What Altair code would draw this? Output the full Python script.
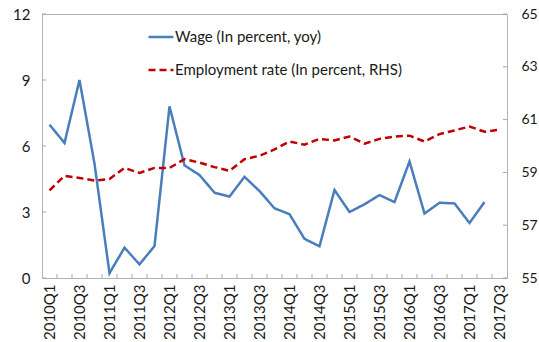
import altair as alt
import pandas as pd

quarters = ["2010Q1", "2010Q2", "2010Q3", "2010Q4", "2011Q1", "2011Q2", "2011Q3", "2011Q4",
            "2012Q1", "2012Q2", "2012Q3", "2012Q4", "2013Q1", "2013Q2", "2013Q3", "2013Q4",
            "2014Q1", "2014Q2", "2014Q3", "2014Q4", "2015Q1", "2015Q2", "2015Q3", "2015Q4",
            "2016Q1", "2016Q2", "2016Q3", "2016Q4", "2017Q1", "2017Q2", "2017Q3"]
label_quarters = quarters[::2]

wage = [6.97, 6.14, 9.0, 5.2, 0.22, 1.38, 0.62, 1.45, 7.8, 5.12, 4.68, 3.88, 3.7, 4.6, 3.95,
        3.17, 2.9, 1.78, 1.44, 4.0, 3.0, 3.35, 3.77, 3.45, 5.3, 2.93, 3.42, 3.39, 2.5, 3.45]
employment = [58.32, 58.87, 58.79, 58.69, 58.75, 59.17, 58.98, 59.17, 59.17, 59.5, 59.37,
              59.2, 59.06, 59.5, 59.63, 59.87, 60.17, 60.05, 60.27, 60.21, 60.36, 60.09,
              60.27, 60.36, 60.39, 60.17, 60.45, 60.59, 60.74, 60.54, 60.62]

series_names = ["Wage (In percent, yoy)", "Employment rate (In percent, RHS)"]
series_colors = ["#4a7ebb", "#c00000"]
left_ticks = [0, 3, 6, 9, 12]
right_ticks = [55, 57, 59, 61, 63, 65]

FONT = "Lato"
W, H = 465, 264

wage_df = pd.DataFrame({"quarter": quarters[:len(wage)], "value": wage, "series": series_names[0]})
emp_df = pd.DataFrame({"quarter": quarters, "value": employment, "series": series_names[1]})
qdf = pd.DataFrame({"quarter": quarters[1:]})
ltick_df = pd.DataFrame({"v": left_ticks})
rtick_df = pd.DataFrame({"v": right_ticks})

xscale = alt.Scale(type="band", domain=quarters, paddingInner=0, paddingOuter=0)
xaxis = alt.Axis(values=label_quarters, labelAngle=270, ticks=False, domain=False,
                 labelPadding=6, labelFontSize=15, labelFont=FONT, labelColor="#1a1a1a",
                 title=None, grid=False)
yl_scale = alt.Scale(domain=[0, 12], nice=False, zero=False)
yr_scale = alt.Scale(domain=[55, 65], nice=False, zero=False)

color = alt.Color("series:N", scale=alt.Scale(domain=series_names, range=series_colors),
                  legend=alt.Legend(title=None, orient="none", legendX=105, legendY=9,
                                    symbolType="stroke", symbolSize=625, symbolStrokeWidth=2.5,
                                    labelFontSize=15, labelFont=FONT, labelColor="#1a1a1a",
                                    labelOffset=0, rowPadding=11, labelLimit=400))
dash = alt.StrokeDash("series:N", scale=alt.Scale(domain=series_names, range=[[1, 0], [7, 4]]),
                      legend=None)

wage_line = alt.Chart(wage_df).mark_line(strokeWidth=2.5).encode(
    x=alt.X("quarter:N", scale=xscale, axis=xaxis, sort=quarters),
    y=alt.Y("value:Q", scale=yl_scale,
            axis=alt.Axis(values=left_ticks, ticks=False, domain=False, grid=False,
                          labelPadding=12, labelFontSize=15, labelFont=FONT,
                          labelColor="#1a1a1a", title=None, orient="left")),
    color=color,
    strokeDash=dash,
)
left_tick_marks = alt.Chart(ltick_df).mark_rule(color="#a6a6a6", strokeWidth=1).encode(
    y=alt.Y("v:Q", scale=yl_scale),
    x=alt.value(0), x2=alt.value(4),
)
x_tick_marks = alt.Chart(qdf).mark_rule(color="#a6a6a6", strokeWidth=1).encode(
    x=alt.X("quarter:N", scale=xscale, bandPosition=0, sort=quarters),
    y=alt.value(H - 4), y2=alt.value(H),
)

emp_line = alt.Chart(emp_df).mark_line(strokeWidth=2.5).encode(
    x=alt.X("quarter:N", scale=xscale, sort=quarters),
    y=alt.Y("value:Q", scale=yr_scale,
            axis=alt.Axis(values=right_ticks, ticks=False, domain=False, grid=False,
                          labelPadding=14, labelFontSize=14, labelFont=FONT,
                          labelColor="#1a1a1a", title=None, orient="right")),
    color=color,
    strokeDash=dash,
)
right_tick_marks = alt.Chart(rtick_df).mark_rule(color="#a6a6a6", strokeWidth=1).encode(
    y=alt.Y("v:Q", scale=yr_scale),
    x=alt.value(W - 4), x2=alt.value(W),
)

left = alt.layer(x_tick_marks, left_tick_marks, wage_line)
right = alt.layer(right_tick_marks, emp_line)

chart = alt.layer(left, right).resolve_scale(y="independent").properties(
    width=W, height=H,
    autosize=alt.AutoSizeParams(type="none"),
    padding={"left": 42, "top": 14, "right": 32, "bottom": 64},
    background="white",
).configure_view(stroke="#b3b3b3", strokeWidth=1)

chart.save("out.html", embed_options={"renderer": "svg", "actions": False})
